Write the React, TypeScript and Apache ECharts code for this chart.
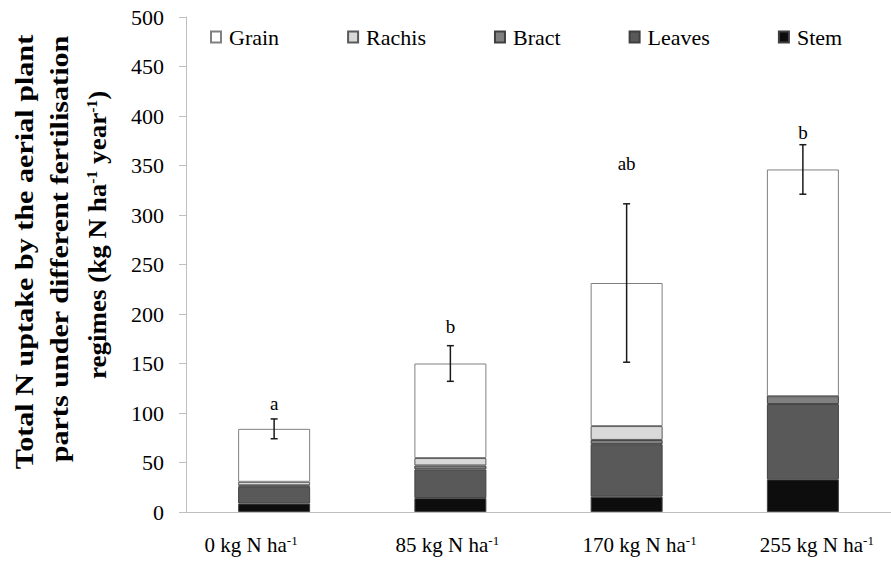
import React, { useEffect, useRef } from "react";
import * as echarts from "echarts";

// Fertilisation regimes (the "-1" superscript is appended in the label formatter)
const categories = ["0 kg N ha", "85 kg N ha", "170 kg N ha", "255 kg N ha"];

// N uptake per plant part (kg N ha-1 year-1), stacked bottom to top
const stem = [8.5, 14, 15.5, 33];
const leaves = [17, 29, 53, 76];
const bract = [1.5, 4, 4.3, 8];
const rachis = [3.5, 7.5, 14, 0];
const grain = [53.5, 95.5, 144.5, 229];

// Error of the total uptake and significance letters
const errors = [10, 18, 80, 25];
const letters = ["a", "b", "ab", "b"];
const letterLevels = [110, 187, 352, 383];

const legendOrder = ["Grain", "Rachis", "Bract", "Leaves", "Stem"];

const SERIF = "Liberation Serif";
const labelShift = [-23, -3, 13, 14];

const parts = [
  { name: "Stem", data: stem, color: "#0d0d0d", border: "#404040" },
  { name: "Leaves", data: leaves, color: "#595959", border: "#404040" },
  { name: "Bract", data: bract, color: "#808080", border: "#404040" },
  { name: "Rachis", data: rachis, color: "#d9d9d9", border: "#5a5a5a" },
  { name: "Grain", data: grain, color: "#ffffff", border: "#808080" },
];

const totals = categories.map(
  (_, i) => stem[i] + leaves[i] + bract[i] + rachis[i] + grain[i]
);

export default function App() {
  const ref = useRef<HTMLDivElement>(null);

  useEffect(() => {
    if (!ref.current) return;
    const chart = echarts.init(ref.current, null, { renderer: "svg" });

    const rich: Record<string, any> = {};
    labelShift.forEach((s, i) => {
      rich["n" + i] = {
        fontSize: 21,
        fontFamily: SERIF,
        color: "#000",
        padding: s > 0 ? [0, 0, 0, 2 * s] : 0,
      };
      rich["s" + i] = {
        fontSize: 13,
        fontFamily: SERIF,
        color: "#000",
        verticalAlign: "top",
        padding: s < 0 ? [0, -2 * s, 0, 0] : 0,
      };
    });

    const titleRich = {
      b: { fontSize: 26, fontWeight: "bold", fontFamily: SERIF, fill: "#000" },
      s: {
        fontSize: 15,
        fontWeight: "bold",
        fontFamily: SERIF,
        fill: "#000",
        verticalAlign: "top",
      },
    };

    const titleLine = (text: string, x: number, y: number, stretch: number) => ({
      type: "text",
      x,
      y,
      rotation: Math.PI / 2,
      scaleX: stretch,
      style: {
        text,
        rich: titleRich,
        fontSize: 26,
        fontWeight: "bold",
        fontFamily: SERIF,
        fill: "#000",
        align: "center",
        verticalAlign: "middle",
        textAlign: "center",
        textVerticalAlign: "middle",
      },
    });

    const option: any = {
      animation: false,
      backgroundColor: "#ffffff",
      textStyle: { fontFamily: SERIF },
      grid: { left: 186, right: -12, top: 17, bottom: 51 },
      legend: {
        data: legendOrder,
        left: 205,
        top: 21,
        icon: "rect",
        itemWidth: 10,
        itemHeight: 11,
        itemGap: 68,
        textStyle: {
          fontFamily: SERIF,
          fontSize: 22,
          color: "#000",
          padding: [0, 0, 0, 3],
        },
      },
      xAxis: {
        type: "category",
        data: categories,
        axisLine: { lineStyle: { color: "#bfbfbf" } },
        axisTick: { length: 10, lineStyle: { color: "#bfbfbf" } },
        axisLabel: {
          margin: 22,
          interval: 0,
          fontFamily: SERIF,
          formatter: (v: string, i: number) => `{n${i}|${v}}{s${i}|-1}`,
          rich,
        },
      },
      yAxis: {
        type: "value",
        min: 0,
        max: 500,
        interval: 50,
        axisLine: { show: true, lineStyle: { color: "#bfbfbf" } },
        axisTick: { show: true, length: 7, lineStyle: { color: "#bfbfbf" } },
        splitLine: { show: false },
        axisLabel: {
          fontSize: 22,
          fontFamily: SERIF,
          color: "#000",
          margin: 22,
        },
      },
      graphic: [
        titleLine("Total N uptake by the aerial plant", 24, 252, 1.16),
        titleLine("parts under different fertilisation", 59, 249, 1.16),
        titleLine(
          "{b|regimes (kg N ha}{s|-1}{b| year}{s|-1}{b|)}",
          97,
          235,
          1.04
        ),
      ],
      series: [
        ...parts.map((p) => ({
          type: "bar",
          name: p.name,
          stack: "total",
          data: p.data,
          barWidth: 72,
          itemStyle: {
            color: p.color,
            borderColor: p.border,
            borderWidth: 1,
          },
        })),
        {
          type: "custom",
          name: "error",
          data: totals.map((t, i) => [i, t - errors[i], t + errors[i]]),
          encode: { x: 0, y: [1, 2] },
          z: 10,
          renderItem: (_params: any, api: any) => {
            const lo = api.coord([api.value(0), api.value(1)]);
            const hi = api.coord([api.value(0), api.value(2)]);
            const x = lo[0];
            const w = 3.5;
            const style = { stroke: "#1a1a1a", lineWidth: 1.5 };
            return {
              type: "group",
              children: [
                { type: "line", shape: { x1: x, y1: hi[1], x2: x, y2: lo[1] }, style },
                { type: "line", shape: { x1: x - w, y1: hi[1], x2: x + w, y2: hi[1] }, style },
                { type: "line", shape: { x1: x - w, y1: lo[1], x2: x + w, y2: lo[1] }, style },
              ],
            };
          },
        },
        {
          type: "custom",
          name: "letters",
          data: letterLevels.map((v, i) => [i, v]),
          encode: { x: 0, y: 1 },
          z: 10,
          renderItem: (params: any, api: any) => {
            const pt = api.coord([api.value(0), api.value(1)]);
            return {
              type: "text",
              x: pt[0],
              y: pt[1],
              style: {
                text: letters[params.dataIndex],
                fontSize: 19,
                fontFamily: SERIF,
                fill: "#000",
                align: "center",
                verticalAlign: "middle",
                textAlign: "center",
                textVerticalAlign: "middle",
              },
            };
          },
        },
      ],
    };

    chart.setOption(option);
    return () => chart.dispose();
  }, []);

  return (
    <div
      ref={ref}
      style={{ position: "fixed", left: 0, top: 0, width: 891, height: 563 }}
    />
  );
}
